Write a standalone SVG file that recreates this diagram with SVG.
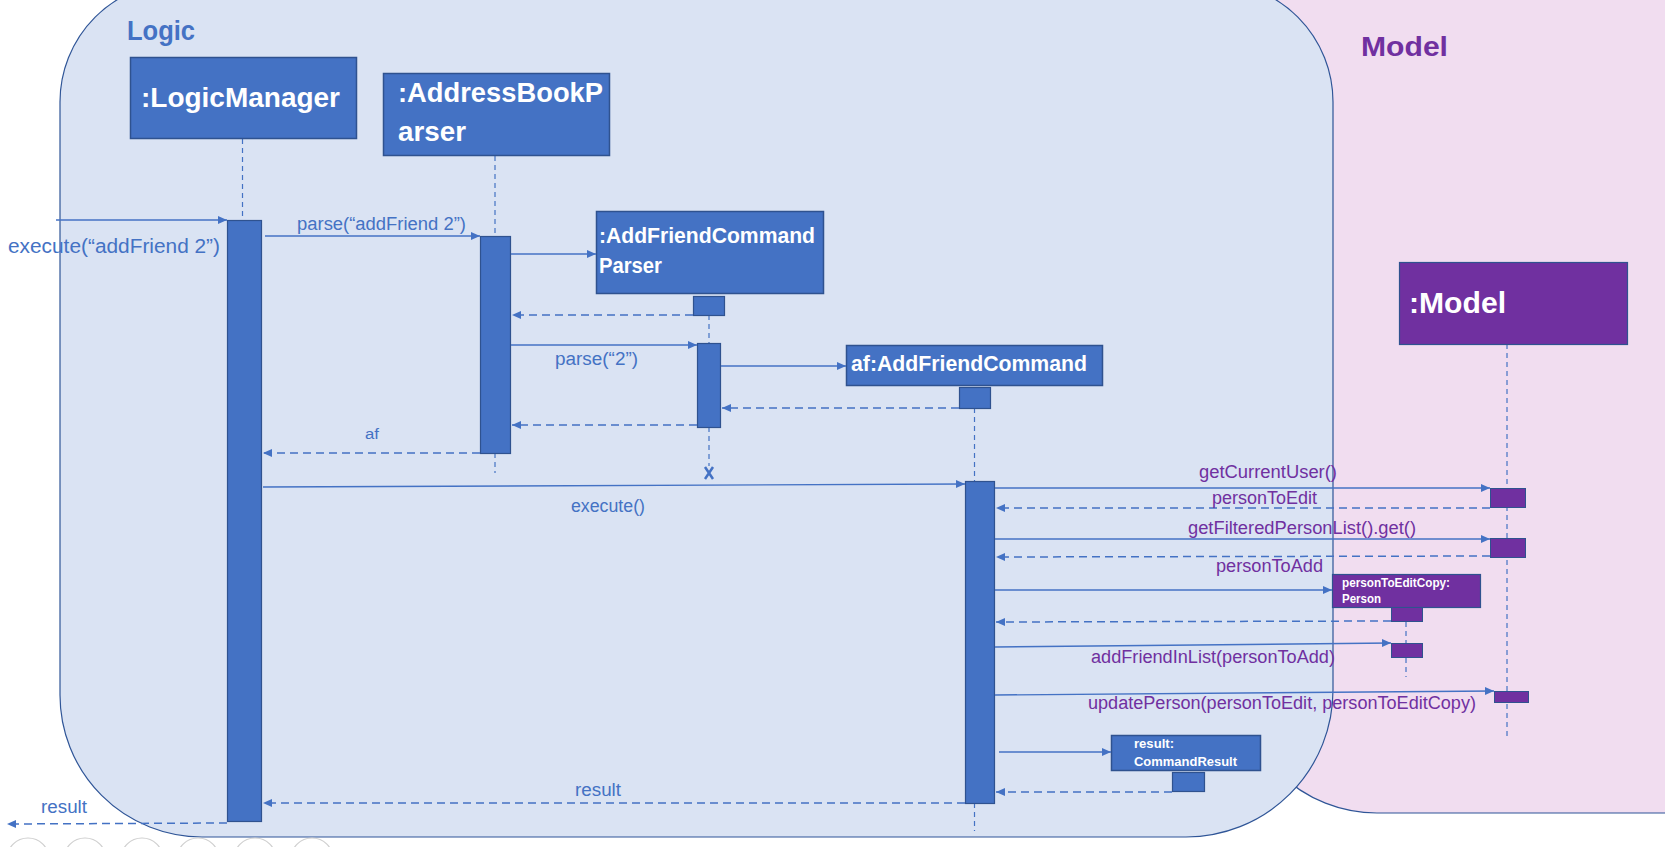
<svg xmlns="http://www.w3.org/2000/svg" width="1665" height="847" viewBox="0 0 1665 847">
<defs>
<marker id="ah" markerUnits="userSpaceOnUse" markerWidth="10" markerHeight="10" refX="9" refY="4" orient="auto">
<path d="M0,0 L9,4 L0,8 z" fill="#4472C4"/>
</marker>
<style>
.region-logic{fill:#DAE3F3;stroke:#2F5597;stroke-width:1.2}
.region-model{fill:#F1DDF0;stroke:#2F5597;stroke-width:1.2}
.head{fill:#4472C4;stroke:#2F528F;stroke-width:1.5}
.headp{fill:#7030A0;stroke:#2F528F;stroke-width:1.2}
.act{fill:#4472C4;stroke:#2F528F;stroke-width:1.2}
.actp{fill:#7030A0;stroke:#2F528F;stroke-width:1}
.life{stroke:#4472C4;stroke-width:1.2;stroke-dasharray:5,4;fill:none}
.msg{stroke:#4472C4;stroke-width:1.4;fill:none;marker-end:url(#ah)}
.ret{stroke:#4472C4;stroke-width:1.5;stroke-dasharray:8,5;fill:none;marker-end:url(#ah)}
.ht{font-family:"Liberation Sans",Arial,sans-serif;font-weight:bold;fill:#FFFFFF}
.lb{font-family:"Liberation Sans",Arial,sans-serif;font-size:18px;fill:#4472C4}
.lp{font-family:"Liberation Sans",Arial,sans-serif;font-size:18px;fill:#7030A0}
.icon{fill:none;stroke:#CFCFCF;stroke-width:1.2}
</style>
</defs>
<rect width="1665" height="847" fill="#FFFFFF"/>
<g id="region-model">
<rect class="region-model" x="1237" y="-200" width="600" height="1013" rx="140" ry="140"/>
<text x="1361" y="56" font-family="Liberation Sans,Arial,sans-serif" font-weight="bold" font-size="28" fill="#7030A0" textLength="87" lengthAdjust="spacingAndGlyphs">Model</text>
</g>
<g id="region-logic">
<path class="region-logic" d="M180,-18 L1213,-18 A120,120 0 0 1 1333,102 L1333,690 A147,147 0 0 1 1186,837 L202,837 A142,142 0 0 1 60,695 L60,102 A120,120 0 0 1 180,-18 Z"/>
<text x="127" y="40" font-family="Liberation Sans,Arial,sans-serif" font-weight="bold" font-size="28" fill="#4472C4" textLength="68" lengthAdjust="spacingAndGlyphs">Logic</text>
</g>
<g id="icons">
<circle class="icon" cx="28" cy="859" r="21"/>
<circle class="icon" cx="85" cy="859" r="21"/>
<circle class="icon" cx="142" cy="859" r="21"/>
<circle class="icon" cx="198" cy="859" r="21"/>
<circle class="icon" cx="255" cy="859" r="21"/>
<circle class="icon" cx="312" cy="859" r="21"/>
</g>
<g id="lifelines">
<line class="life" x1="242.5" y1="139" x2="242.5" y2="220"/>
<line class="life" x1="495" y1="156" x2="495" y2="236"/>
<line class="life" x1="495" y1="453" x2="495" y2="473"/>
<line class="life" x1="709" y1="315" x2="709" y2="343"/>
<line class="life" x1="709" y1="427" x2="709" y2="466"/>
<line class="life" x1="974.5" y1="408" x2="974.5" y2="481"/>
<line class="life" x1="974.5" y1="803" x2="974.5" y2="831"/>
<line class="life" x1="1507" y1="344" x2="1507" y2="738"/>
<line class="life" x1="1406" y1="622" x2="1406" y2="677"/>
</g>
<g id="node-logicmanager">
<rect class="head" x="130.5" y="57.5" width="226" height="81"/>
<text class="ht" x="141" y="107" font-size="28" textLength="199" lengthAdjust="spacingAndGlyphs">:LogicManager</text>
<rect class="act" x="227.5" y="220.5" width="34" height="601"/>
</g>
<g id="node-addressbookparser">
<rect class="head" x="383.5" y="73.5" width="226" height="82"/>
<text class="ht" x="398" y="102" font-size="27" textLength="205" lengthAdjust="spacingAndGlyphs">:AddressBookP</text>
<text class="ht" x="398" y="141" font-size="27" textLength="68" lengthAdjust="spacingAndGlyphs">arser</text>
<rect class="act" x="480.5" y="236.5" width="30" height="217"/>
</g>
<g id="node-addfriendcommandparser">
<rect class="head" x="596.5" y="211.5" width="227" height="82"/>
<text class="ht" x="599" y="243" font-size="22" textLength="216" lengthAdjust="spacingAndGlyphs">:AddFriendCommand</text>
<text class="ht" x="599" y="273" font-size="22" textLength="63" lengthAdjust="spacingAndGlyphs">Parser</text>
<rect class="act" x="693.5" y="296.5" width="31" height="19"/>
<rect class="act" x="697.5" y="343.5" width="23" height="84"/>
<path d="M705,467 L713,479 M713,467 L705,479" stroke="#4472C4" stroke-width="2.5"/>
</g>
<g id="node-addfriendcommand">
<rect class="head" x="846.5" y="345.5" width="256" height="40"/>
<text class="ht" x="851" y="371" font-size="22" textLength="236" lengthAdjust="spacingAndGlyphs">af:AddFriendCommand</text>
<rect class="act" x="959.5" y="387.5" width="31" height="21"/>
<rect class="act" x="965.5" y="481.5" width="29" height="322"/>
</g>
<g id="node-model">
<rect class="headp" x="1399.5" y="262.5" width="228" height="82"/>
<text class="ht" x="1409" y="313" font-size="30" textLength="97" lengthAdjust="spacingAndGlyphs">:Model</text>
<rect class="actp" x="1490.5" y="488.5" width="35" height="19"/>
<rect class="actp" x="1490.5" y="538.5" width="35" height="19"/>
<rect class="actp" x="1494.5" y="691.5" width="34" height="11"/>
</g>
<g id="node-persontoeditcopy">
<rect class="headp" x="1332.5" y="574.5" width="148" height="33"/>
<text class="ht" x="1342" y="587" font-size="12.5" textLength="108" lengthAdjust="spacingAndGlyphs">personToEditCopy:</text>
<text class="ht" x="1342" y="603" font-size="12.5" textLength="39" lengthAdjust="spacingAndGlyphs">Person</text>
<rect class="actp" x="1391.5" y="607.5" width="31" height="14"/>
<rect class="actp" x="1391.5" y="643.5" width="31" height="14"/>
</g>
<g id="node-commandresult">
<rect class="head" x="1111.5" y="735.5" width="149" height="35"/>
<text class="ht" x="1134" y="748" font-size="13" textLength="40" lengthAdjust="spacingAndGlyphs">result:</text>
<text class="ht" x="1134" y="766" font-size="13" textLength="103" lengthAdjust="spacingAndGlyphs">CommandResult</text>
<rect class="act" x="1172.5" y="772.5" width="32" height="19"/>
</g>
<g id="connectors">
<line class="msg" x1="56" y1="220" x2="227" y2="220"/>
<text class="lb" x="8" y="253" font-size="20" style="font-size:20px" textLength="212" lengthAdjust="spacingAndGlyphs">execute(“addFriend 2”)</text>
<line class="msg" x1="265" y1="236" x2="480" y2="236"/>
<text class="lb" x="297" y="230" textLength="169" lengthAdjust="spacingAndGlyphs">parse(“addFriend 2”)</text>
<line class="msg" x1="511" y1="254" x2="596" y2="254"/>
<line class="ret" x1="693" y1="315" x2="512" y2="315"/>
<line class="msg" x1="511" y1="345" x2="697" y2="345"/>
<text class="lb" x="555" y="365" textLength="83" lengthAdjust="spacingAndGlyphs">parse(“2”)</text>
<line class="msg" x1="721" y1="366" x2="846" y2="366"/>
<line class="ret" x1="959" y1="408" x2="722" y2="408"/>
<line class="ret" x1="697" y1="425" x2="512" y2="425"/>
<line class="ret" x1="480" y1="453" x2="263" y2="453"/>
<text class="lb" x="365" y="439" style="font-size:14px" textLength="14" lengthAdjust="spacingAndGlyphs">af</text>
<line class="msg" x1="263" y1="487" x2="965" y2="484"/>
<text class="lb" x="571" y="512" textLength="74" lengthAdjust="spacingAndGlyphs">execute()</text>
<line class="msg" x1="995" y1="488" x2="1490" y2="488"/>
<text class="lp" x="1199" y="478" textLength="138" lengthAdjust="spacingAndGlyphs">getCurrentUser()</text>
<line class="ret" x1="1490" y1="508" x2="996" y2="508"/>
<text class="lp" x="1212" y="504" textLength="105" lengthAdjust="spacingAndGlyphs">personToEdit</text>
<line class="msg" x1="995" y1="539" x2="1490" y2="539"/>
<text class="lp" x="1188" y="534" textLength="228" lengthAdjust="spacingAndGlyphs">getFilteredPersonList().get()</text>
<line class="ret" x1="1490" y1="556" x2="996" y2="557"/>
<text class="lp" x="1216" y="572" textLength="107" lengthAdjust="spacingAndGlyphs">personToAdd</text>
<line class="msg" x1="995" y1="590" x2="1332" y2="590"/>
<line class="ret" x1="1391" y1="621" x2="996" y2="622"/>
<line class="msg" x1="995" y1="647" x2="1391" y2="643"/>
<text class="lp" x="1091" y="663" textLength="244" lengthAdjust="spacingAndGlyphs">addFriendInList(personToAdd)</text>
<line class="msg" x1="995" y1="695" x2="1494" y2="691"/>
<text class="lp" x="1088" y="709" textLength="388" lengthAdjust="spacingAndGlyphs">updatePerson(personToEdit, personToEditCopy)</text>
<line class="msg" x1="999" y1="752" x2="1111" y2="752"/>
<line class="ret" x1="1172" y1="792" x2="996" y2="792"/>
<line class="ret" x1="965" y1="803" x2="263" y2="803"/>
<text class="lb" x="575" y="796" textLength="46" lengthAdjust="spacingAndGlyphs">result</text>
<line class="ret" x1="227" y1="823" x2="7" y2="824"/>
<text class="lb" x="41" y="813" textLength="46" lengthAdjust="spacingAndGlyphs">result</text>
</g>
</svg>
